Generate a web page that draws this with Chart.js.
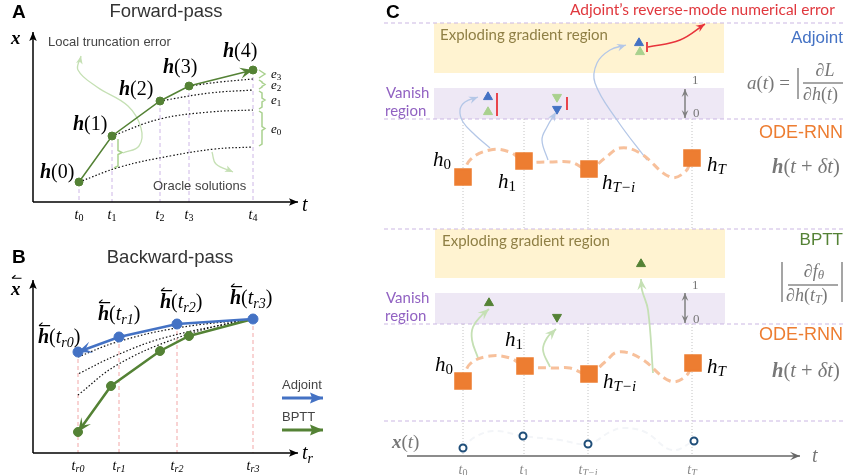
<!DOCTYPE html>
<html>
<head>
<meta charset="utf-8">
<script src="https://cdn.jsdelivr.net/npm/chart.js@4/dist/chart.umd.min.js"></script>
<style>
html, body { margin: 0; padding: 0; background: #fff; }
canvas { display: block; }
</style>
</head>
<body>
<canvas id="c" width="844" height="475"></canvas>
<script>
// ---- panel A : forward pass (figure units = px) ----
var fwdPts = [[79, 182], [112, 136], [160, 101], [189, 86], [253, 70]];
var oracleCurves = [
	[[79, 182], [120, 167], [170, 156], [215, 149], [253, 147]],
	[[112, 136], [160, 119], [210, 112], [253, 110]],
	[[160, 101], [210, 93], [253, 90]],
	[[189, 86], [220, 82], [253, 79]]
];
var errSpans = [[70, 78], [80, 89], [91, 109], [111, 146]];
var errNames = ['3', '2', '1', '0'];
var truncSpan = [137, 168];
var truncArrow = [[123, 153], [139, 146], [141, 128], [128, 106], [97, 87], [78, 70], [81, 56]];
var oracleArrow = [[212, 152], [216, 164], [233, 172]];
var fwdTicks = ['0', '1', '2', '3', '4'];

// ---- panel B : backward pass ----
var adjPts = [[253, 319], [177, 324], [119, 337], [78, 352]];
var bpttPts = [[253, 319], [189, 336], [160, 351], [111, 386], [78, 432]];
var bwdOracle = [
	[[253, 319], [177, 328], [117, 342], [78, 357]],
	[[253, 319], [167, 337], [117, 355], [78, 374]],
	[[253, 319], [233, 322], [177, 338], [117, 365], [78, 395]]
];
var trTickX = [78, 119, 177, 253];
var trTickTop = [352, 337, 324, 319];
var trTicks = ['0', '1', '2', '3'];

// ---- panel C : gradient regions ----
var stepX = [463, 524, 588, 692];
var stepNames = ['0', '1', 'T\u2212i', 'T'];
var explodeBands = [[434, 23, 724, 73], [435, 229, 725, 278]];
var vanishBands = [[434, 88, 724, 119], [435, 293, 725, 324]];
var sepLines = [23, 119, 229, 324, 421];
var hTop = [[463, 177], [524, 161], [589, 169], [692, 158]];
var hTopPath = [[463, 177], [470, 160], [490, 150], [510, 152], [524, 161], [548, 162], [570, 162], [589, 169], [605, 158], [620, 148], [640, 153], [670, 177], [685, 172], [692, 158]];
var hLow = [[463, 381], [525, 366], [589, 374], [693, 363]];
var hLowPath = [[463, 381], [470, 364], [490, 356], [510, 358], [525, 366], [553, 368], [570, 368], [589, 374], [605, 362], [618, 352], [640, 358], [670, 381], [685, 377], [693, 363]];
var xObs = [[463, 448], [523, 436], [588, 444], [694, 441]];
var xPath = [[463, 448], [475, 437], [495, 431], [523, 436], [560, 440], [588, 444], [610, 432], [622, 428], [645, 432], [672, 450], [694, 441]];

var adjUp = [[639, 43], [488, 97]];
var adjDown = [[557, 109]];
var bpLightUp = [[640, 52], [488, 112]];
var bpLightDown = [[557, 97]];
var bpUp = [[641, 264], [489, 303]];
var bpDown = [[557, 317]];
var errBars = [[[497, 93], [497, 116]], [[567, 97], [567, 110]], [[647, 42], [647, 52]]];
var errCurve = [[648, 47], [680, 40], [705, 24]];
var adjLinks = [
	[[490, 148], [475, 135], [463, 122], [460, 110], [465, 102], [478, 97]],
	[[548, 160], [542, 140], [547, 127], [556, 112]],
	[[647, 160], [617, 120], [595, 83], [597, 63], [610, 50], [626, 45]]
];
var bpLinks = [
	[[478, 358], [472, 340], [473, 327], [482, 315], [489, 309]],
	[[550, 367], [543, 350], [547, 338], [556, 329]],
	[[653, 373], [648, 310], [642, 290], [641, 279]]
];
var unitArrows = [[[685, 89], [685, 118]], [[685, 293], [685, 323]]];
var formulaRules = [
	[[798, 68], [798, 99]], [[803, 83], [843, 83]],
	[[782, 262], [782, 302]], [[788, 285], [838, 285]], [[842, 262], [842, 302]]
];

var SERIF = '"Liberation Serif","DejaVu Serif",serif';
var SANS = '"Liberation Sans",Arial,sans-serif';
var CAL = 'Lato,"Open Sans",sans-serif';
function f(style, size, fam) { return style + ' ' + size + 'px ' + (fam || SERIF); }

var GREEN = '#548235', LGREEN = '#a9d18e', PGREEN = '#c5e0b4';
var BLUE = '#4472c4', LBLUE = '#b4c7e7', ORANGE = '#ed7d31';
var GRAY = '#777777';

// labels: x, y, align, colour, parts [text, font, dy, harpoon]
var labels = [
	{x: 12, y: 13, t: [['A', f('bold', 19, SANS)]]},
	{x: 166, y: 12, a: 'center', c: '#333', t: [['Forward-pass', f('', 18.5, SANS)]]},
	{x: 11, y: 39, t: [['x', f('bold italic', 19)]]},
	{x: 302, y: 206, t: [['t', f('italic', 20)]]},
	{x: 48, y: 42, c: '#444', t: [['Local truncation error', f('', 13, SANS)]]},
	{x: 153, y: 186, c: '#444', t: [['Oracle solutions', f('', 13, SANS)]]},
	{x: 12, y: 258, t: [['B', f('bold', 19, SANS)]]},
	{x: 170, y: 258, a: 'center', c: '#333', t: [['Backward-pass', f('', 18.5, SANS)]]},
	{x: 11, y: 290, t: [['x', f('bold italic', 19), 0, true]]},
	{x: 302, y: 454, t: [['t', f('italic', 20)], ['r', f('italic', 14), 5]]},
	{x: 282, y: 385, c: '#444', t: [['Adjoint', f('', 13, SANS)]]},
	{x: 282, y: 417, c: '#444', t: [['BPTT', f('', 13, SANS)]]},
	{x: 386, y: 13, t: [['C', f('bold', 19, SANS)]]},
	{x: 570, y: 10, c: '#e0383e', t: [['Adjoint\u2019s reverse-mode numerical error', f('', 15.5, CAL)]]},
	{x: 440, y: 35, c: '#8f7f45', t: [['Exploding gradient region', f('', 15, CAL)]]},
	{x: 442, y: 241, c: '#8f7f45', t: [['Exploding gradient region', f('', 15, CAL)]]},
	{x: 386, y: 93, c: '#9162c2', t: [['Vanish', f('', 15, CAL)]]},
	{x: 385, y: 111, c: '#9162c2', t: [['region', f('', 15, CAL)]]},
	{x: 386, y: 298, c: '#9162c2', t: [['Vanish', f('', 15, CAL)]]},
	{x: 385, y: 316, c: '#9162c2', t: [['region', f('', 15, CAL)]]},
	{x: 692, y: 81, c: GRAY, t: [['1', f('', 13)]]},
	{x: 693, y: 114, c: GRAY, t: [['0', f('', 13)]]},
	{x: 692, y: 286, c: GRAY, t: [['1', f('', 13)]]},
	{x: 693, y: 320, c: GRAY, t: [['0', f('', 13)]]},
	{x: 843, y: 38, a: 'right', c: BLUE, t: [['Adjoint', f('', 17, SANS)]]},
	{x: 747, y: 84, c: GRAY, t: [['a', f('italic', 19)], ['(', f('', 19)], ['t', f('italic', 19)], [') =', f('', 19)]]},
	{x: 825, y: 71, a: 'center', c: GRAY, t: [['\u2202', f('', 18)], ['L', f('italic', 18)]]},
	{x: 803, y: 95, c: GRAY, t: [['\u2202', f('', 18)], ['h', f('italic', 18)], ['(', f('', 18)], ['t', f('italic', 18)], [')', f('', 18)]]},
	{x: 843, y: 133, a: 'right', c: ORANGE, t: [['ODE-RNN', f('', 18, SANS)]]},
	{x: 772, y: 168, c: GRAY, t: [['h', f('bold italic', 20.5)], ['(', f('', 20.5)], ['t', f('italic', 20.5)], [' + ', f('', 20.5)], ['\u03b4t', f('italic', 20.5)], [')', f('', 20.5)]]},
	{x: 843, y: 240, a: 'right', c: GREEN, t: [['BPTT', f('', 17, SANS)]]},
	{x: 814, y: 272, a: 'center', c: GRAY, t: [['\u2202', f('', 18)], ['f', f('italic', 18)], ['\u03b8', f('italic', 13), 4]]},
	{x: 786, y: 296, c: GRAY, t: [['\u2202', f('', 18)], ['h', f('italic', 18)], ['(', f('', 18)], ['t', f('italic', 18)], ['T', f('italic', 12), 4], [')', f('', 18)]]},
	{x: 843, y: 335, a: 'right', c: ORANGE, t: [['ODE-RNN', f('', 18, SANS)]]},
	{x: 772, y: 372, c: GRAY, t: [['h', f('bold italic', 20.5)], ['(', f('', 20.5)], ['t', f('italic', 20.5)], [' + ', f('', 20.5)], ['\u03b4t', f('italic', 20.5)], [')', f('', 20.5)]]},
	{x: 392, y: 443, c: GRAY, t: [['x', f('bold italic', 19)], ['(', f('', 19)], ['t', f('italic', 19)], [')', f('', 19)]]},
	{x: 812, y: 457, c: GRAY, t: [['t', f('italic', 20)]]},
	// h labels in panel C
	{x: 433, y: 160, t: [['h', f('italic', 21)], ['0', f('', 15), 5]]},
	{x: 498, y: 182, t: [['h', f('italic', 21)], ['1', f('', 15), 5]]},
	{x: 602, y: 183, t: [['h', f('italic', 21)], ['T\u2212i', f('italic', 15), 5]]},
	{x: 707, y: 165, t: [['h', f('italic', 21)], ['T', f('italic', 15), 5]]},
	{x: 435, y: 365, t: [['h', f('italic', 21)], ['0', f('', 15), 5]]},
	{x: 505, y: 340, t: [['h', f('italic', 21)], ['1', f('', 15), 5]]},
	{x: 603, y: 382, t: [['h', f('italic', 21)], ['T\u2212i', f('italic', 15), 5]]},
	{x: 707, y: 367, t: [['h', f('italic', 21)], ['T', f('italic', 15), 5]]},
	// h(n) labels in panel A
	{x: 40, y: 173, t: [['h', f('bold italic', 20)], ['(0)', f('', 20)]]},
	{x: 73, y: 125, t: [['h', f('bold italic', 20)], ['(1)', f('', 20)]]},
	{x: 119, y: 90, t: [['h', f('bold italic', 20)], ['(2)', f('', 20)]]},
	{x: 163, y: 68, t: [['h', f('bold italic', 20)], ['(3)', f('', 20)]]},
	{x: 223, y: 52, t: [['h', f('bold italic', 20)], ['(4)', f('', 20)]]}
];
// backward labels
[[38, 338], [98, 315], [160, 303], [230, 299]].forEach(function (p, i) {
	labels.push({x: p[0], y: p[1], t: [['h', f('bold italic', 20), 0, true], ['(', f('', 20)], ['t', f('italic', 20)], ['r' + i, f('italic', 14), 5], [')', f('', 20)]]});
});
fwdPts.forEach(function (p, i) {
	labels.push({x: p[0], y: 215, a: 'center', t: [['t', f('italic', 14)], [fwdTicks[i], f('', 10), 3]]});
});
trTickX.forEach(function (x, i) {
	labels.push({x: x, y: 466, a: 'center', t: [['t', f('italic', 14)], ['r' + trTicks[i], f('italic', 10), 3]]});
});
stepX.forEach(function (x, i) {
	labels.push({x: x, y: 470, a: 'center', c: '#888', t: [['t', f('italic', 14)], [stepNames[i], f(i < 2 ? '' : 'italic', 10), 3]]});
});
errNames.forEach(function (n, i) {
	var s = errSpans[i];
	labels.push({x: 271, y: (s[0] + s[1]) / 2 + 1, t: [['e', f('italic', 13)], [n, f('', 9), 3]]});
});

function xy(a) {
	return a.map(function (p) { return {x: p[0], y: p[1]}; });
}

function brace(x, y1, y2, w) {
	var m = (y1 + y2) / 2;
	return [[x - w, y1], [x, y1 + 2], [x, m - 2], [x + w, m], [x, m + 2], [x, y2 - 2], [x - w, y2]];
}

var layers = [];

function line(a, color, width, extra) {
	var d = {
		type: 'line', data: xy(a), borderColor: color, backgroundColor: color,
		borderWidth: width, pointRadius: 0, tension: 0, fill: false, clip: false
	};
	for (var k in (extra || {})) d[k] = extra[k];
	layers.push(d);
}

function marks(a, style, r, fill, stroke, bw, rot) {
	layers.push({
		type: 'scatter', data: xy(a), pointStyle: style, pointRadius: r, pointRotation: rot || 0,
		pointBackgroundColor: fill, pointBorderColor: stroke, pointBorderWidth: bw, clip: false
	});
}

// panel A
fwdPts.forEach(function (p) { line([p, [p[0], 202]], '#cdb6e6', 1, {borderDash: [4, 3]}); });
oracleCurves.forEach(function (c) { line(c, '#111', 1.2, {borderDash: [1.5, 2], tension: 0.4}); });
errSpans.forEach(function (s) { line(brace(262, s[0], s[1], 3), LGREEN, 1.5); });
line(brace(118, truncSpan[0], truncSpan[1], 4).slice(1), LGREEN, 1.5);
line(truncArrow, PGREEN, 1.3, {tension: 0.4, arrowEnd: true, arrowSize: 8});
line(oracleArrow, PGREEN, 1.3, {tension: 0.4, arrowEnd: true, arrowSize: 8});
line([[33, 202], [33, 32]], '#000', 1.5, {arrowEnd: true, arrowSize: 9});
line([[33, 202], [298, 202]], '#000', 1.5, {arrowEnd: true, arrowSize: 9});
line(fwdPts, GREEN, 1.5, {arrowEnd: true, arrowSize: 13, arrowInset: 5});
marks(fwdPts.slice(0, 4), 'circle', 4, GREEN, GREEN, 1);
marks(fwdPts.slice(4), 'circle', 4, GREEN, GREEN, 1);

// panel B
trTickX.forEach(function (x, i) { line([[x, trTickTop[i]], [x, 453]], '#f2a7a7', 1, {borderDash: [4, 3]}); });
bwdOracle.forEach(function (c) { line(c, '#111', 1.2, {borderDash: [1.5, 2], tension: 0.4}); });
line([[33, 453], [33, 280]], '#000', 1.5, {arrowEnd: true, arrowSize: 9});
line([[33, 453], [298, 453]], '#000', 1.5, {arrowEnd: true, arrowSize: 9});
line(bpttPts, GREEN, 2.5, {arrowEnd: true, arrowSize: 14, arrowInset: 6});
marks(bpttPts.slice(1, 4).concat([bpttPts[4]]), 'circle', 4.5, GREEN, GREEN, 1);
line(adjPts, BLUE, 2.5, {arrowEnd: true, arrowSize: 14, arrowInset: 6});
marks(adjPts, 'circle', 5, BLUE, BLUE, 1);
line([[282, 398], [323, 398]], BLUE, 3, {arrowEnd: true, arrowSize: 13});
line([[282, 430], [323, 430]], GREEN, 3, {arrowEnd: true, arrowSize: 13});

// panel C
sepLines.forEach(function (y) { line([[384, y], [844, y]], '#cbb7e3', 1, {borderDash: [4, 3]}); });
stepX.forEach(function (x) {
	line([[x, 119], [x, 228]], '#c4c4c4', 1, {borderDash: [1, 2]});
	line([[x, 324], [x, 456]], '#c4c4c4', 1, {borderDash: [1, 2]});
});
line(xPath, '#f3f5f8', 2, {tension: 0.4, borderDash: [6, 4]});
line([[407, 456], [800, 456]], '#666', 1.5, {arrowEnd: true, arrowSize: 10, arrowInset: 4});
marks(xObs, 'circle', 3.5, '#fff', '#1f4e79', 2);
adjLinks.forEach(function (c) { line(c, LBLUE, 1.3, {tension: 0.4, arrowEnd: true, arrowSize: 9, arrowInset: 3}); });
bpLinks.forEach(function (c) { line(c, PGREEN, 1.8, {tension: 0.4, arrowEnd: true, arrowSize: 11, arrowInset: 4}); });
line(hTopPath, '#f7c09b', 3, {borderDash: [8, 5], tension: 0.4});
line(hLowPath, '#f7c09b', 3, {borderDash: [8, 5], tension: 0.4});
marks(hTop, 'rect', 11, ORANGE, ORANGE, 2);
marks(hLow, 'rect', 11, ORANGE, ORANGE, 2);
unitArrows.forEach(function (c) { line(c, '#808080', 1.5, {arrowEnd: true, arrowStart: true, arrowSize: 8, arrowInset: 3}); });
errBars.forEach(function (c) { line(c, '#e8333b', 1.8); });
line(errCurve, '#e8333b', 1.5, {tension: 0.4, arrowEnd: true, arrowSize: 9, arrowInset: 3});
marks(adjUp, 'triangle', 5.2, BLUE, BLUE, 1);
marks(adjDown, 'triangle', 5.2, BLUE, BLUE, 1, 180);
marks(bpLightUp, 'triangle', 5.2, LGREEN, LGREEN, 1);
marks(bpLightDown, 'triangle', 5.2, LGREEN, LGREEN, 1, 180);
marks(bpUp, 'triangle', 5.2, GREEN, GREEN, 1);
marks(bpDown, 'triangle', 5.2, GREEN, GREEN, 1, 180);
formulaRules.forEach(function (c) { line(c, '#888', 1.5); });

// background bands for the regions
var bandPlugin = {
	id: 'bands',
	beforeDatasetsDraw: function (chart) {
		var ctx = chart.ctx, sx = chart.scales.x, sy = chart.scales.y;
		function fillBand(b, color) {
			var x1 = sx.getPixelForValue(b[0]), y1 = sy.getPixelForValue(b[1]);
			var x2 = sx.getPixelForValue(b[2]), y2 = sy.getPixelForValue(b[3]);
			ctx.fillStyle = color;
			ctx.fillRect(x1, y1, x2 - x1, y2 - y1);
		}
		ctx.save();
		explodeBands.forEach(function (b) { fillBand(b, '#fff3d1'); });
		vanishBands.forEach(function (b) { fillBand(b, '#eee8f5'); });
		ctx.restore();
	}
};

function head(ctx, tip, prev, ds, start) {
	var fx = prev.x, fy = prev.y;
	var cx = start ? tip.cp2x : tip.cp1x, cy = start ? tip.cp2y : tip.cp1y;
	if (cx !== undefined && Math.hypot(tip.x - cx, tip.y - cy) > 1) {
		fx = cx;
		fy = cy;
	}
	var ang = Math.atan2(tip.y - fy, tip.x - fx);
	var L = ds.arrowSize || 8, W = L * 0.42, N = L - (ds.arrowInset || 2);
	var c = Math.cos(ang), s = Math.sin(ang);
	ctx.save();
	ctx.fillStyle = ds.borderColor;
	ctx.beginPath();
	ctx.moveTo(tip.x, tip.y);
	ctx.lineTo(tip.x - L * c + W * s, tip.y - L * s - W * c);
	ctx.lineTo(tip.x - N * c, tip.y - N * s);
	ctx.lineTo(tip.x - L * c - W * s, tip.y - L * s + W * c);
	ctx.closePath();
	ctx.fill();
	ctx.restore();
}

var arrowPlugin = {
	id: 'arrows',
	afterDatasetsDraw: function (chart) {
		var ctx = chart.ctx;
		chart.data.datasets.forEach(function (ds, i) {
			if (!ds.arrowEnd && !ds.arrowStart) return;
			var pts = chart.getDatasetMeta(i).data;
			var n = pts.length;
			if (ds.arrowEnd) head(ctx, pts[n - 1], pts[n - 2], ds, false);
			if (ds.arrowStart) head(ctx, pts[0], pts[1], ds, true);
		});
	}
};

var textPlugin = {
	id: 'texts',
	afterDatasetsDraw: function (chart) {
		var ctx = chart.ctx, sx = chart.scales.x, sy = chart.scales.y;
		labels.forEach(function (l) {
			ctx.save();
			ctx.textBaseline = 'middle';
			ctx.fillStyle = l.c || '#000';
			ctx.strokeStyle = l.c || '#000';
			var w = 0;
			l.t.forEach(function (p) {
				ctx.font = p[1];
				w += ctx.measureText(p[0]).width;
			});
			var x = sx.getPixelForValue(l.x), y = sy.getPixelForValue(l.y);
			if (l.a === 'center') x -= w / 2;
			else if (l.a === 'right') x -= w;
			l.t.forEach(function (p) {
				ctx.font = p[1];
				var pw = ctx.measureText(p[0]).width;
				ctx.fillText(p[0], x, y + (p[2] || 0));
				if (p[3]) {
					// left harpoon over the symbol
					var size = parseFloat(p[1].match(/([\d.]+)px/)[1]);
					var yy = y - size * 0.62;
					ctx.lineWidth = 1.1;
					ctx.beginPath();
					ctx.moveTo(x + 1, yy);
					ctx.lineTo(x + pw + 1, yy);
					ctx.moveTo(x + 1, yy);
					ctx.lineTo(x + 4.5, yy - 3);
					ctx.stroke();
				}
				x += pw;
			});
			ctx.restore();
		});
	}
};

// first dataset ends up on top, so reverse the bottom-to-top list
new Chart(document.getElementById('c'), {
	type: 'scatter',
	data: {datasets: layers.slice().reverse()},
	options: {
		responsive: false,
		animation: false,
		devicePixelRatio: 1,
		events: [],
		layout: {padding: 0, autoPadding: false},
		plugins: {legend: {display: false}, tooltip: {enabled: false}},
		scales: {
			x: {type: 'linear', min: 0, max: 844, display: false},
			y: {type: 'linear', min: 0, max: 475, reverse: true, display: false}
		}
	},
	plugins: [bandPlugin, arrowPlugin, textPlugin]
});
</script>
</body>
</html>
